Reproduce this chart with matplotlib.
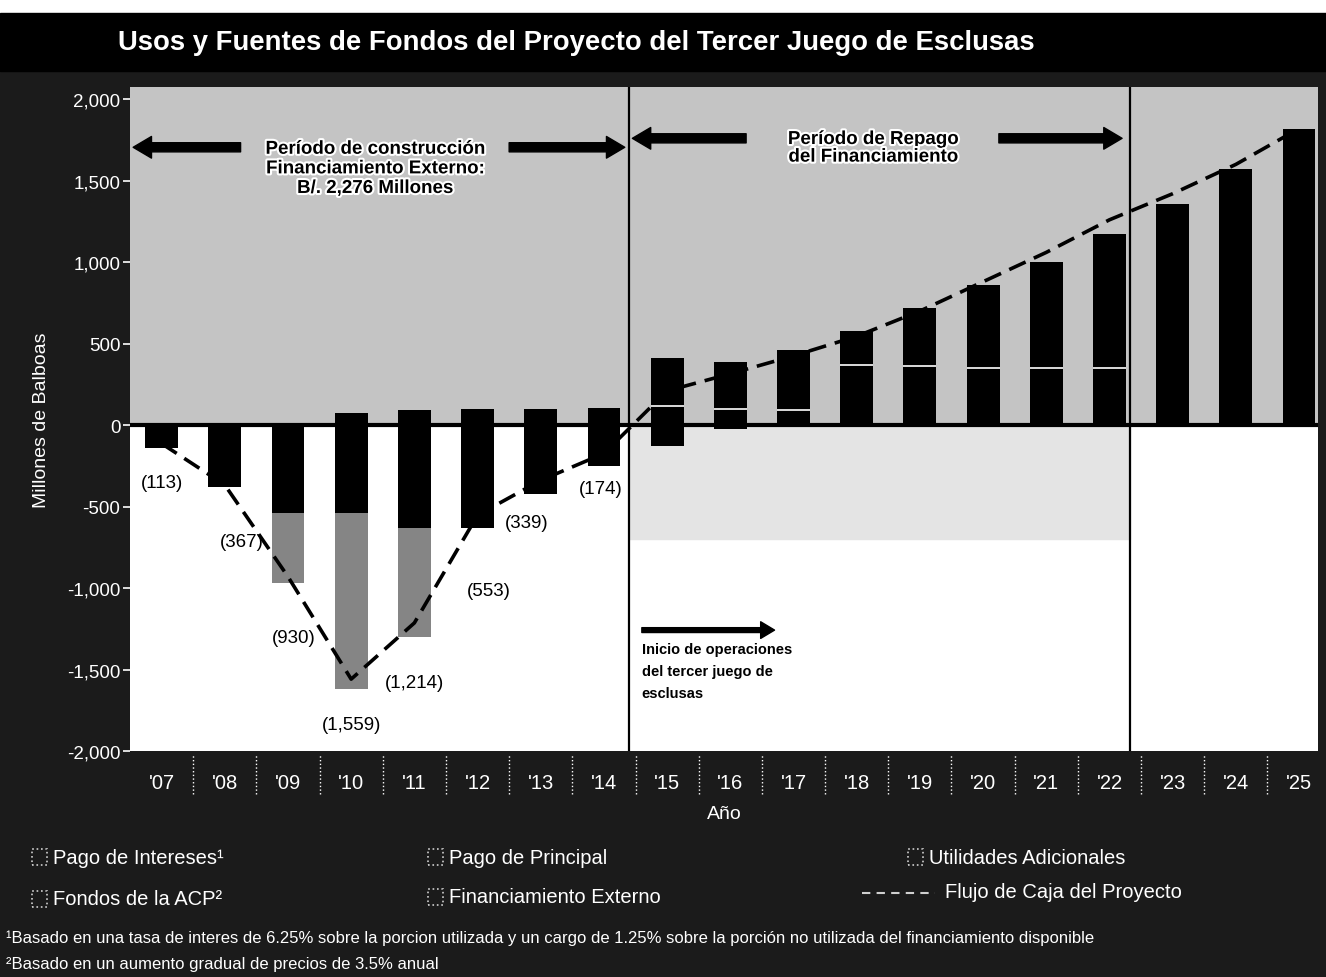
import numpy as np
import matplotlib.pyplot as plt
import matplotlib.patheffects as pe
from matplotlib.patches import Rectangle
from matplotlib.lines import Line2D

plt.rcParams['font.family'] = ['Liberation Sans', 'DejaVu Sans']

# -----------------------------
# Data (millones de balboas)
# -----------------------------
years = list(range(2007, 2026))
year_labels = ["'07", "'08", "'09", "'10", "'11", "'12", "'13", "'14", "'15", "'16",
               "'17", "'18", "'19", "'20", "'21", "'22", "'23", "'24", "'25"]

pago_intereses = [0, 0, 0, 75, 90, 100, 100, 105, 120, 100, 90, 120, 110, 100, 90, 80, 0, 0, 0]
pago_principal = [0, 0, 0, 0, 0, 0, 0, 0, 0, 0, 0, 250, 250, 250, 260, 270, 0, 0, 0]
utilidades = [0, 0, 0, 0, 0, 0, 0, 0, 290, 290, 370, 210, 360, 510, 650, 820, 1360, 1570, 1820]
fondos_acp = [-140, -380, -540, -540, -630, -630, -420, -250, -130, -25, 0, 0, 0, 0, 0, 0, 0, 0, 0]
financiamiento = [0, 0, -430, -1080, -670, 0, 0, 0, 0, 0, 0, 0, 0, 0, 0, 0, 0, 0, 0]
flujo_caja = [-113, -367, -930, -1559, -1214, -553, -339, -174, 210, 315, 425, 545,
              700, 880, 1060, 1260, 1420, 1600, 1820]
flujo_labels = ["(113)", "(367)", "(930)", "(1,559)", "(1,214)", "(553)", "(339)", "(174)"]
label_offsets = [(0, -28), (12, -41), (4, -44), (0, -33), (0, -43), (8, -54), (-10, -30), (-2, -25)]

y_ticks = [2000, 1500, 1000, 500, 0, -500, -1000, -1500, -2000]
y_tick_labels = ["2,000", "1,500", "1,000", "500", "0", "-500", "-1,000", "-1,500", "-2,000"]

fase_limites = [2014.4, 2022.33]

# -----------------------------
# Figure
# -----------------------------
BG = '#1b1b1b'
fig = plt.figure(figsize=(13.26, 9.78), dpi=100, facecolor=BG)
ax = fig.add_axes([130/1326, 1-752/978, (1318-130)/1326, (752-88)/978])
ax.set_facecolor('white')
ax.set_xlim(2006.5, 2025.3)
ax.set_ylim(-2000, 2075)

# background shading
ax.axhspan(0, 2075, color='#c4c4c4', zorder=0)
ax.add_patch(Rectangle((fase_limites[0], -700), fase_limites[1]-fase_limites[0], 700,
                       color='#e4e4e4', zorder=0))

x = np.array(years, dtype=float)
w = 0.52
pi = np.array(pago_intereses); pp = np.array(pago_principal); ut = np.array(utilidades)
acp = np.array(fondos_acp); fin = np.array(financiamiento)

ax.bar(x, pi, w, color='black', zorder=2, label='Pago de Intereses')
ax.bar(x, pp, w, bottom=pi, color='black', zorder=2, label='Pago de Principal')
ax.bar(x, ut, w, bottom=pi+pp, color='black', zorder=2, label='Utilidades Adicionales')
ax.bar(x, acp, w, color='black', zorder=2, label='Fondos de la ACP')
ax.bar(x, fin, w, bottom=acp, color='#858585', zorder=2, label='Financiamiento Externo')

# thin white separators between payments and utilidades
base = pi + pp
sel = (ut > 0) & (base > 0)
ax.hlines(base[sel], x[sel]-w/2, x[sel]+w/2, color='white', lw=1.2, zorder=3)

ax.axhline(0, color='black', lw=3, zorder=4)
for xv in fase_limites:
    ax.axvline(xv, color='black', lw=1.6, zorder=4)

ax.plot(x, flujo_caja, color='black', lw=2.6, dashes=(5, 2.5), zorder=5,
        label='Flujo de Caja del Proyecto')

for i, (lab, off) in enumerate(zip(flujo_labels, label_offsets)):
    ax.annotate(lab, (x[i], flujo_caja[i]), xytext=off, textcoords='offset points',
                ha='center', va='center', fontsize=13.5, color='black', zorder=6)

# period annotations
halo = [pe.withStroke(linewidth=3, foreground='white')]
arrow_kw = dict(arrowstyle='simple,head_width=1.3,head_length=1.1,tail_width=0.55',
                color='black', mutation_scale=12, shrinkA=0, shrinkB=0)
ax.annotate('', xy=(2006.55, 1705), xytext=(2008.25, 1705), arrowprops=arrow_kw, zorder=6)
ax.annotate('', xy=(2014.33, 1705), xytext=(2012.5, 1705), arrowprops=arrow_kw, zorder=6)
ax.text(2010.38, 1745, 'Período de construcción\nFinanciamiento Externo:\nB/. 2,276 Millones',
        ha='center', va='top', fontsize=13.5, fontweight='bold', linespacing=1.2,
        color='black', path_effects=halo, zorder=7)
ax.annotate('', xy=(2014.45, 1760), xytext=(2016.25, 1760), arrowprops=arrow_kw, zorder=6)
ax.annotate('', xy=(2022.2, 1760), xytext=(2020.25, 1760), arrowprops=arrow_kw, zorder=6)
ax.text(2018.26, 1805, 'Período de Repago\ndel Financiamiento',
        ha='center', va='top', fontsize=13.5, fontweight='bold', linespacing=1.05,
        color='black', path_effects=halo, zorder=7)

ax.annotate('', xy=(2016.7, -1258), xytext=(2014.6, -1258),
            arrowprops=dict(arrowstyle='simple,head_width=1.2,head_length=1.0,tail_width=0.35',
                            color='black', mutation_scale=10, shrinkA=0, shrinkB=0), zorder=6)
ax.text(2014.6, -1330, 'Inicio de operaciones\ndel tercer juego de\nesclusas', ha='left', va='top',
        fontsize=10.5, fontweight='bold', linespacing=1.75, color='black', zorder=6)

# axes styling
for s in ax.spines.values():
    s.set_visible(False)
ax.set_yticks(y_ticks)
ax.set_yticklabels(y_tick_labels)
ax.set_xticks(years)
ax.set_xticklabels(year_labels)
ax.tick_params(axis='y', colors='white', labelsize=13.5, length=5, width=1.2, pad=2)
ax.tick_params(axis='x', colors='white', labelsize=14.5, length=0, pad=16)
ax.set_ylabel('Millones de Balboas', color='white', fontsize=14, labelpad=12)
ax.set_xlabel('Año', color='white', fontsize=14, labelpad=9)

# dotted separators between year labels
sep_x = x[:-1] + 0.5
ax.vlines(sep_x, -0.065, -0.005, transform=ax.get_xaxis_transform(), colors='white',
          lw=1, linestyles=':', clip_on=False)

# title bar
fig.patches.append(Rectangle((0, 1-14/978), 1, 14/978, transform=fig.transFigure,
                             color='white', zorder=0))
fig.patches.append(Rectangle((0, 1-72/978), 1, 58/978, transform=fig.transFigure,
                             color='black', zorder=0))
fig.text(118/1326, 1-43/978, 'Usos y Fuentes de Fondos del Proyecto del Tercer Juego de Esclusas',
         color='white', fontsize=19.8, fontweight='bold', va='center', ha='left')

# legend (manual layout)
def fy(py):
    return 1 - py/978

def box(px, py):
    fig.patches.append(Rectangle((px/1326, fy(py+8)), 15/1326, 16/978, transform=fig.transFigure,
                                 facecolor='none', edgecolor='#d0d0d0', lw=1.2, linestyle=':'))

leg_font = dict(color='white', fontsize=14.5, va='center', ha='left')
box(32, 858); fig.text(53/1326, fy(858), 'Pago de Intereses¹', **leg_font)
box(32, 900); fig.text(53/1326, fy(900), 'Fondos de la ACP²', **leg_font)
box(428, 858); fig.text(449/1326, fy(858), 'Pago de Principal', **leg_font)
box(428, 898); fig.text(449/1326, fy(898), 'Financiamiento Externo', **leg_font)
box(908, 858); fig.text(929/1326, fy(858), 'Utilidades Adicionales', **leg_font)
fig.lines.append(Line2D([862/1326, 935/1326], [fy(894), fy(894)], transform=fig.transFigure,
                        color='#d0d0d0', lw=1.5, dashes=(4, 3)))
fig.text(945/1326, fy(893), 'Flujo de Caja del Proyecto', **leg_font)

fig.text(6/1326, fy(938), '¹Basado en una tasa de interes de 6.25% sobre la porcion utilizada y un cargo de 1.25% '
         'sobre la porción no utilizada del financiamiento disponible', color='white', fontsize=12,
         va='center', ha='left')
fig.text(6/1326, fy(965), '²Basado en un aumento gradual de precios de 3.5% anual', color='white',
         fontsize=12, va='center', ha='left')

fig.savefig('out.png', dpi=100, facecolor=BG)
